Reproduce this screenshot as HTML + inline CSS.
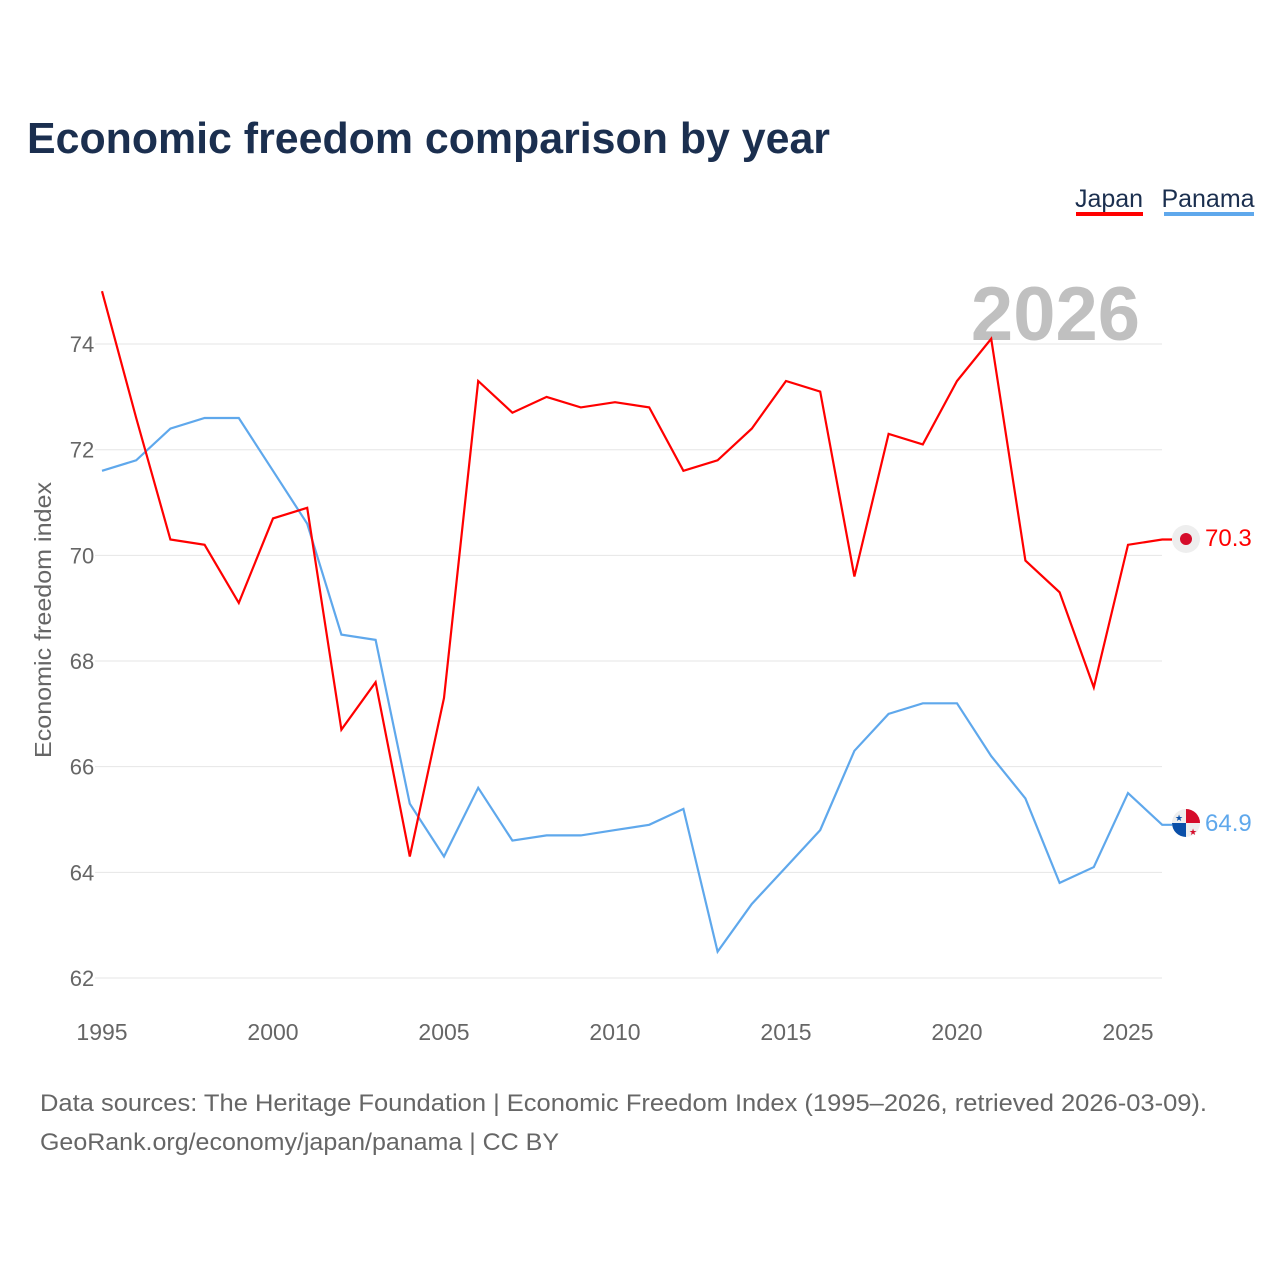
<!DOCTYPE html>
<html><head><meta charset="utf-8"><style>
body{margin:0;background:#fff;font-family:"Liberation Sans",sans-serif;}
svg text{font-family:"Liberation Sans",sans-serif;}
</style></head><body>
<svg id="c" width="1280" height="1280" xmlns="http://www.w3.org/2000/svg">
<text x="27" y="153" font-size="44" font-weight="bold" fill="#1b2f4f" textLength="803" lengthAdjust="spacingAndGlyphs">Economic freedom comparison by year</text>
<g>
<text x="1109" y="207" font-size="25" fill="#1b2f4f" text-anchor="middle">Japan</text>
<rect x="1076" y="212" width="67" height="4" fill="#ff0000"/>
<text x="1208" y="207" font-size="25" fill="#1b2f4f" text-anchor="middle">Panama</text>
<rect x="1164" y="212" width="90" height="4" fill="#5fa8ec"/>
</g>
<text x="1140" y="340" font-size="76" font-weight="bold" fill="#c0c0c0" text-anchor="end">2026</text>
<text transform="translate(51,620) rotate(-90)" font-size="23" fill="#666" text-anchor="middle" textLength="276" lengthAdjust="spacingAndGlyphs">Economic freedom index</text>
<g id="grid"></g><g id="lines"></g>
<g>
<circle cx="1186" cy="539" r="14" fill="#eee"/><circle cx="1186" cy="539" r="6" fill="#d50c2a"/>
<text x="1205" y="546" font-size="24" fill="#ff0000">70.3</text>
</g>
<g>
<clipPath id="pc"><circle cx="1186" cy="823" r="14"/></clipPath>
<g clip-path="url(#pc)"><rect x="1172" y="809" width="28" height="28" fill="#eee"/><rect x="1186" y="809" width="14" height="14" fill="#d50c2a"/><rect x="1172" y="823" width="14" height="14" fill="#0a4fa8"/></g>
<text x="1179" y="821" font-size="9" fill="#0a4fa8" text-anchor="middle">★</text>
<text x="1193" y="835" font-size="9" fill="#d50c2a" text-anchor="middle">★</text>
<text x="1205" y="831" font-size="24" fill="#5fa8ec">64.9</text>
</g>
<text x="40" y="1111" font-size="24" fill="#666" textLength="1167" lengthAdjust="spacingAndGlyphs">Data sources: The Heritage Foundation | Economic Freedom Index (1995–2026, retrieved 2026-03-09).</text>
<text x="40" y="1150" font-size="24" fill="#666" textLength="519" lengthAdjust="spacingAndGlyphs">GeoRank.org/economy/japan/panama | CC BY</text>
</svg>
<script>
const years=[1995,1996,1997,1998,1999,2000,2001,2002,2003,2004,2005,2006,2007,2008,2009,2010,2011,2012,2013,2014,2015,2016,2017,2018,2019,2020,2021,2022,2023,2024,2025,2026];
const japan=[75.0,72.6,70.3,70.2,69.1,70.7,70.9,66.7,67.6,64.3,67.3,73.3,72.7,73.0,72.8,72.9,72.8,71.6,71.8,72.4,73.3,73.1,69.6,72.3,72.1,73.3,74.1,69.9,69.3,67.5,70.2,70.3];
const panama=[71.6,71.8,72.4,72.6,72.6,71.6,70.6,68.5,68.4,65.3,64.3,65.6,64.6,64.7,64.7,64.8,64.9,65.2,62.5,63.4,64.1,64.8,66.3,67.0,67.2,67.2,66.2,65.4,63.8,64.1,65.5,64.9];
const yTicks=[62,64,66,68,70,72,74];
const xTicks=[1995,2000,2005,2010,2015,2020,2025];
const NS="http://www.w3.org/2000/svg";
const xs=y=>102+(y-1995)*34.2;
const ys=v=>978-(v-62)*52.83;
const grid=document.getElementById('grid'),lines=document.getElementById('lines');
function mk(t,a,p){const e=document.createElementNS(NS,t);for(const k in a)e.setAttribute(k,a[k]);p.appendChild(e);return e;}
yTicks.forEach(v=>{
 const l=mk('line',{x1:95,x2:1162,y1:ys(v),y2:ys(v),stroke:'#e6e6e6','stroke-width':1},grid);
 
 
 const t=mk('text',{x:82,y:ys(v)+8,'font-size':22,fill:'#666','text-anchor':'middle'},grid);t.textContent=v;
 
 
});
xTicks.forEach(y=>{
 const t=mk('text',{x:xs(y),y:1040,'font-size':23,fill:'#666','text-anchor':'middle'},grid);t.textContent=y;
 
 
});
function draw(vals,col,name){
 const d=vals.map((v,i)=>(i?'L':'M')+xs(years[i]).toFixed(1)+','+ys(v).toFixed(1)).join('')+'L1172,'+ys(vals[vals.length-1]).toFixed(1);
 const p=mk('path',{d:d,fill:'none',stroke:col,'stroke-width':2.2,'stroke-linejoin':'miter'},lines);
 
 
}
draw(panama,'#5fa8ec','panama-line');
draw(japan,'#ff0000','japan-line');
</script>
</body></html>
